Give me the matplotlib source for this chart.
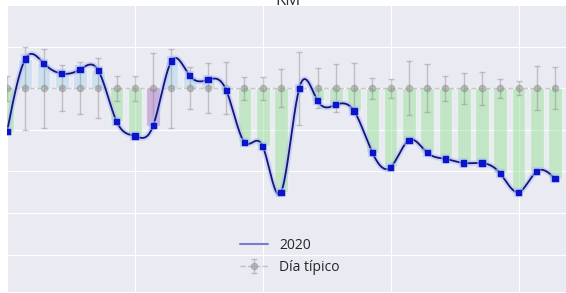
import numpy as np
import pandas as pd
import matplotlib
matplotlib.use("Agg")
from matplotlib import pyplot as plt
import matplotlib.dates as mdates
import matplotlib.patheffects as pe
from matplotlib.lines import Line2D
import seaborn as sns

# --- data (2020 vs typical day, normalised: typical = 1.0) ---
dias = pd.date_range("2020-03-01", periods=31, freq="D")
valores_2020 = [0.79, 1.14, 1.12, 1.07, 1.09, 1.085, 0.84, 0.77, 0.82, 1.13,
                1.06, 1.04, 0.99, 0.74, 0.72, 0.50, 1.00, 0.94, 0.92, 0.89,
                0.69, 0.62, 0.75, 0.69, 0.66, 0.64, 0.64, 0.59, 0.50, 0.60,
                0.565]
tipico = [1.0] * 31
tipico_err = [0.06, 0.20, 0.19, 0.11, 0.125, 0.145, 0.06, 0.06, 0.17, 0.19,
              0.10, 0.12, 0.125, 0.055, 0.055, 0.09, 0.175, 0.095, 0.115, 0.12,
              0.05, 0.045, 0.13, 0.115, 0.06, 0.075, 0.08, 0.045, 0.035, 0.105,
              0.10]
dias_destacados = [8]  # index of highlighted day (purple bar)


def spline_natural(x, y, xs):
    x = np.asarray(x, float)
    y = np.asarray(y, float)
    n = len(x)
    h = np.diff(x)
    A = np.zeros((n, n))
    b = np.zeros(n)
    A[0, 0] = A[-1, -1] = 1
    for i in range(1, n - 1):
        A[i, i - 1] = h[i - 1]
        A[i, i] = 2 * (h[i - 1] + h[i])
        A[i, i + 1] = h[i]
        b[i] = 6 * ((y[i + 1] - y[i]) / h[i] - (y[i] - y[i - 1]) / h[i - 1])
    M = np.linalg.solve(A, b)
    idx = np.clip(np.searchsorted(x, xs) - 1, 0, n - 2)
    x0, x1 = x[idx], x[idx + 1]
    hh = x1 - x0
    t0, t1 = x1 - xs, xs - x0
    return (M[idx] * t0 ** 3 / (6 * hh) + M[idx + 1] * t1 ** 3 / (6 * hh)
            + (y[idx] / hh - M[idx] * hh / 6) * t0
            + (y[idx + 1] / hh - M[idx + 1] * hh / 6) * t1)


sns.set_style("darkgrid")
plt.rcParams['font.family'] = ['Open Sans', 'DejaVu Sans']

fig = plt.figure(figsize=(5.66, 2.93), dpi=100)
ax = fig.add_axes([7 / 566, 1 / 293, 559 / 566, 286 / 293])

v = np.array(valores_2020)
t = np.array(tipico)
diff = v - t
colores = []
for i, d in enumerate(diff):
    if i in dias_destacados:
        colores.append('#a66bbf')
    elif d < 0:
        colores.append('#8fe08f')
    else:
        colores.append('#a8d4ee')
ax.bar(dias, diff, bottom=t, width=0.75, color=colores, alpha=0.45, zorder=2)

tip = ax.errorbar(dias, t, yerr=tipico_err, fmt='--o', color='#8a8a8a',
                  ecolor='#8a8a8a', elinewidth=1, capsize=2, markersize=4.5,
                  alpha=0.45, lw=1, zorder=3)

xn = mdates.date2num(dias)
xs = np.linspace(xn[0], xn[-1], 600)
ys = spline_natural(xn, v, xs)
halo = [pe.Stroke(linewidth=4, foreground='#b0c0f5', alpha=0.55), pe.Normal()]
ax.plot(xs, ys, color='#15157a', lw=1.3, zorder=4, path_effects=halo)
ax.plot(dias, v, 's', color='#0a14c8', markersize=3.8, zorder=5,
        path_effects=[pe.Stroke(linewidth=3, foreground='#b0c0f5', alpha=0.55), pe.Normal()])

ax.set_xlim(xn[0], xn[-1] + 0.6)
ax.set_ylim(0.02, 1.395)
ax.xaxis.set_major_locator(mdates.DayLocator(bymonthday=[1, 8, 15, 22, 29]))
ax.set_yticks([0.2, 0.4, 0.6, 0.8, 1.0, 1.2])
ax.tick_params(labelbottom=False, labelleft=False, length=0)
for s in ax.spines.values():
    s.set_visible(False)

linea = Line2D([], [], color='#7a7ad8', lw=1.5)
ax.legend([linea, tip], ['2020', 'Día típico'], loc='center',
          bbox_to_anchor=(0.506, 0.125), frameon=False, fontsize=10,
          labelspacing=0.5)

# title is partly outside the figure, as in the cropped reference
fig.text(0.508, 1 - 5 / 293, 'KM', ha='center', va='baseline',
         fontsize=12, color='#333333')

fig.savefig('out.png', dpi=100)
